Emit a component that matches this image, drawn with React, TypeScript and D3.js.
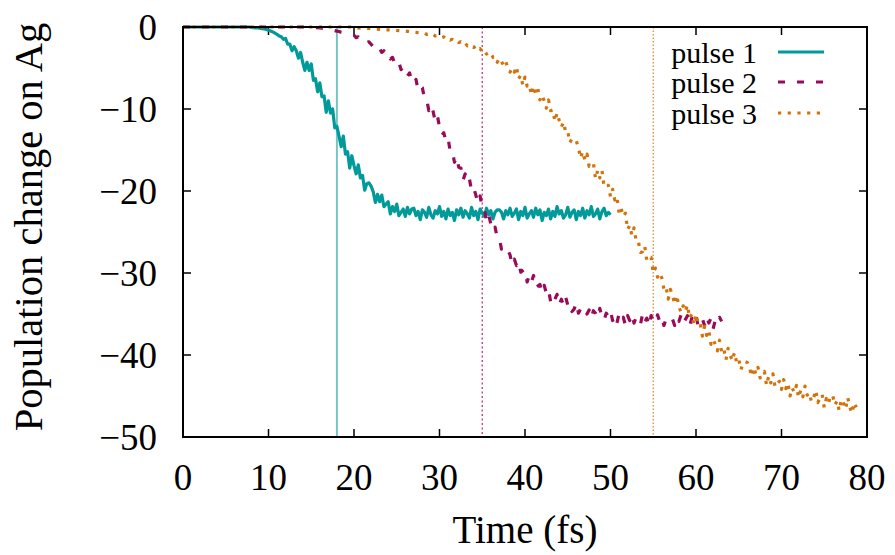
import React from "react";
import * as d3 from "d3";

const W = 895;
const H = 555;

const xTicks = [0, 10, 20, 30, 40, 50, 60, 70, 80];
const yTicks = [0, -10, -20, -30, -40, -50];
const xTickLabels = ["0", "10", "20", "30", "40", "50", "60", "70", "80"];
const yTickLabels = ["0", "\u221210", "\u221220", "\u221230", "\u221240", "\u221250"];

const seriesNames = ["pulse 1", "pulse 2", "pulse 3"];
const seriesColors = ["#009a9a", "#9b0a58", "#d4720a"];
const markerTimes = [18, 35, 55];

// time step of the sampled data (fs), all series start at t = 0
const dt = 0.25;

const pulse1 = [
  0, 0, 0, 0, 0, 0, 0, 0, 0, 0, 0, 0, 0, 0, 0, 0,
  0, 0, 0, 0, 0, 0, 0, 0, 0, 0, 0, 0, 0, 0, 0, 0,
  -0.05, -0.07, -0.1, -0.12,
  -0.15, -0.2, -0.25, -0.3,
  -0.4, -0.5, -0.6, -0.75,
  -0.9, -1.1, -1.2, -1.5,
  -1.4, -2.1, -2.1, -2.9,
  -2.4, -2.9, -3.8, -3.1,
  -4.3, -5.3, -4.3, -5.3,
  -4.5, -6.5, -6.3, -7.9,
  -6.8, -8.5, -8.4, -10.4,
  -9.0, -10.5, -10.0, -12.3,
  -12.1, -13.3, -14.6, -13.3,
  -15.5, -15.2, -17.2, -15.7,
  -16.9, -17.9, -16.8, -18.4,
  -18.1, -19.9, -19.1, -19.0,
  -19.4, -20.1, -21.4, -20.4,
  -21.3, -20.5, -21.9, -21.6,
  -21.3, -22.8, -21.9, -22.5,
  -21.6, -23.0, -22.6, -22.2,
  -23.1, -22.0, -22.8, -22.2,
  -22.1, -23.0, -22.5, -23.5, -22.3, -22.6, -23.2, -22.0, -22.9, -23.3,
  -22.4, -22.8, -21.9, -23.1, -22.5, -23.4, -22.2, -23.0, -22.6, -23.6,
  -22.3, -22.9, -22.1, -23.2, -22.4, -22.8, -23.3, -22.0, -23.0, -22.5,
  -23.5, -22.2, -22.7, -23.1, -22.1, -22.9, -22.4, -23.4, -22.6, -22.3,
  -22.3, -22.6, -23.4, -22.4, -22.9, -22.1, -23.1, -22.7, -22.2, -23.5,
  -22.5, -23.0, -22.0, -23.3, -22.8, -22.4, -23.2, -22.1, -22.9, -22.3,
  -23.6, -22.6, -23.0, -22.2, -23.4, -22.5, -23.1, -21.9, -22.8, -22.4,
  -23.3, -22.9, -22.0, -23.2, -22.6, -22.3, -23.5, -22.5, -23.0, -22.1,
  -23.3, -22.4, -22.9, -21.9, -23.1, -22.8, -22.2, -23.4, -22.5, -22.1,
  -23.0, -22.6, -22.9,
];

const pulse2 = [
  0, 0, 0, 0, 0, 0, 0, 0, 0, 0, 0, 0, 0, 0, 0, 0, 0, 0, 0, 0,
  0, 0, 0, 0, 0, 0, 0, 0, 0, 0, 0, 0, 0, 0, 0, 0, 0, 0, 0, 0,
  0, 0, 0, 0, 0, 0, 0, 0, 0, 0, 0, 0, 0, 0, 0, 0, 0, 0, 0, 0,
  -0.05, -0.06, -0.08, -0.09,
  -0.1, -0.15, -0.2, -0.25,
  -0.3, -0.35, -0.4, -0.45,
  -0.5, -0.55, -0.65, -0.7,
  -0.75, -0.85, -0.95, -1.0,
  -1.0, -1.3, -1.2, -1.5,
  -1.6, -1.5, -1.9, -1.8,
  -2.1, -2.4, -2.2, -2.7,
  -2.6, -3.1, -2.9, -3.5,
  -3.3, -3.9, -3.7, -4.4,
  -4.7, -4.3, -5.2, -4.9,
  -5.1, -6.0, -5.6, -6.7,
  -6.9, -6.4, -7.7, -7.2,
  -7.4, -8.8, -8.8, -10.2,
  -9.5, -10.3, -11.5, -10.8,
  -12.2, -13.2, -12.9, -13.9,
  -13.5, -15.2, -15.1, -16.5,
  -15.8, -17.1, -17.2, -18.7,
  -17.9, -18.9, -18.5, -20.0,
  -19.6, -20.5, -21.5, -20.6,
  -22.1, -22.1, -23.7, -22.9,
  -24.0, -24.9, -24.4, -25.7,
  -25.7, -27.1, -26.7, -26.8,
  -27.2, -27.8, -29.0, -28.3,
  -29.1, -28.6, -29.9, -29.7,
  -29.5, -31.1, -30.3, -31.1,
  -30.3, -31.8, -31.6, -31.4,
  -32.4, -31.5, -32.5, -32.0,
  -33.5, -32.7, -33.2, -32.6,
  -33.9, -33.2, -33.9, -32.9,
  -33.9, -33.6, -34.7, -34.4,
  -33.6, -34.9, -34.4, -34.2,
  -34.1, -35.0, -34.5, -35.5,
  -34.6, -34.9, -35.5, -34.3,
  -35.4, -35.8, -34.9, -35.3,
  -34.6, -35.8, -35.2, -36.1,
  -35.0, -35.8, -35.4, -36.4,
  -35.2, -35.8, -35.0, -36.1,
  -35.4, -35.8, -36.3, -35.0,
  -36.0, -35.5, -36.5, -35.2,
  -35.7, -36.1, -35.1, -35.9,
  -35.4, -36.4, -35.6, -35.3,
  -35.3, -35.6, -36.4, -35.4,
  -35.9, -35.1, -36.1, -35.7,
  -35.2, -36.5, -35.5, -36.0,
  -35.2, -36.5, -36.0, -35.6,
  -36.4, -35.3, -36.1, -35.5,
  -36.8, -35.8, -36.2, -35.4,
  -35.9,
];

const pulse3 = [
  0, 0, 0, 0, 0, 0, 0, 0, 0, 0, 0, 0, 0, 0, 0, 0, 0, 0, 0, 0,
  0, 0, 0, 0, 0, 0, 0, 0, 0, 0, 0, 0, 0, 0, 0, 0, 0, 0, 0, 0,
  0, 0, 0, 0, 0, 0, 0, 0, 0, 0, 0, 0, 0, 0, 0, 0, 0, 0, 0, 0,
  0, 0, 0, 0, 0, 0, 0, 0, 0, 0, 0, 0, 0, 0, 0, 0, 0, 0, 0, 0,
  -0.1, -0.1, -0.12, -0.13,
  -0.15, -0.15, -0.17, -0.18,
  -0.2, -0.22, -0.24, -0.26,
  -0.28, -0.3, -0.32, -0.34,
  -0.35, -0.37, -0.39, -0.41,
  -0.43, -0.45, -0.47, -0.49,
  -0.5, -0.53, -0.56, -0.6,
  -0.62, -0.65, -0.69, -0.72,
  -0.8, -0.75, -0.9, -0.85,
  -1.0, -0.9, -1.1, -1.05,
  -1.1, -1.3, -1.2, -1.45,
  -1.35, -1.6, -1.5, -1.75,
  -1.65, -1.9, -1.8, -2.1,
  -1.95, -2.3, -2.15, -2.45,
  -2.5, -2.35, -2.8, -2.65,
  -3.05, -2.85, -3.3, -3.1,
  -3.1, -3.7, -3.6, -4.3,
  -3.8, -4.2, -4.7, -4.2,
  -5.0, -5.5, -5.0, -5.5,
  -4.8, -6.3, -5.9, -7.1,
  -6.1, -7.2, -7.0, -8.3,
  -7.2, -8.1, -7.5, -8.9,
  -8.3, -9.0, -9.9, -8.9,
  -10.2, -10.1, -11.5, -10.5,
  -11.4, -12.2, -11.6, -12.8,
  -12.7, -14.1, -13.6, -13.7,
  -13.9, -14.7, -16.0, -15.2,
  -16.2, -15.5, -17.0, -16.9,
  -16.6, -18.5, -17.5, -18.4,
  -17.5, -19.5, -19.3, -19.3,
  -20.7, -19.8, -21.1, -20.7,
  -22.7, -22.1, -23.1, -22.7,
  -24.7, -24.2, -25.4, -24.5,
  -26.1, -26.1, -27.5, -27.4,
  -26.7, -28.5, -28.1, -28.1,
  -30.0, -29.4, -30.5, -30.0,
  -30.6, -32.0, -31.7, -33.2,
  -32.0, -32.7, -33.8, -32.7,
  -34.1, -34.8, -34.0, -34.7,
  -33.9, -35.5, -35.0, -36.3,
  -35.0, -36.3, -36.2, -37.7,
  -36.5, -37.6, -37.0, -38.7,
  -38.1, -38.7, -39.5, -38.2,
  -39.6, -39.2, -40.6, -39.2,
  -40.0, -40.7, -39.7, -40.9,
  -40.5, -41.8, -41.0, -40.8,
  -40.9, -41.5, -42.6, -41.5,
  -42.3, -41.5, -42.8, -42.5,
  -42.0, -43.7, -42.6, -43.4,
  -42.3, -43.9, -43.5, -43.2,
  -44.2, -43.0, -44.1, -43.4,
  -45.0, -44.0, -44.6, -43.7,
  -45.2, -44.3, -45.1, -43.8,
  -44.9, -44.6, -45.7, -45.3,
  -44.3, -45.8, -45.2, -44.8,
  -46.4, -45.3, -45.9, -44.9,
  -45.0, -46.1, -45.6, -46.8,
  -45.4, -45.9, -46.6, -45.2,
  -46.4, -47.1, -45.8, -46.4,
];

const seriesData = [pulse1, pulse2, pulse3];

const FONT = "'Liberation Serif', 'Times New Roman', Times, serif";

export default function App() {
  const left = 183, right = 867, top = 27, bottom = 437;
  const x = d3.scaleLinear().domain([0, 80]).range([left, right]);
  const y = d3.scaleLinear().domain([-50, 0]).range([bottom, top]);

  const line = d3
    .line<number>()
    .x((_, i) => x(i * dt))
    .y((v) => y(v));

  const styles = [
    { width: 3.2, dash: undefined as string | undefined },
    { width: 3.2, dash: "7 12" },
    { width: 3.2, dash: "3.2 6.5" },
  ];
  const legendWidths = [3, 3, 3];
  const markerStyles = [
    { color: "#74c6c6", width: 2, dash: undefined as string | undefined },
    { color: "#c2337f", width: 1.3, dash: "2 2.5" },
    { color: "#d98a3a", width: 1.3, dash: "1.5 2" },
  ];

  const tickLen = 8;
  const legendRowY = [52, 82, 113];

  return (
    <svg
      width={W}
      height={H}
      style={{ position: "absolute", left: 0, top: 0, background: "#fff" }}
      fontFamily={FONT}
    >
      <rect x={0} y={0} width={W} height={H} fill="#fff" />
      {markerTimes.map((t, i) => (
        <line
          key={"m" + i}
          x1={x(t)}
          x2={x(t)}
          y1={top}
          y2={bottom}
          stroke={markerStyles[i].color}
          strokeWidth={markerStyles[i].width}
          strokeDasharray={markerStyles[i].dash}
        />
      ))}
      {xTicks.map((t, i) => (
        <g key={"xt" + i}>
          <line x1={x(t)} x2={x(t)} y1={bottom} y2={bottom - tickLen} stroke="#000" strokeWidth={1.5} />
          <line x1={x(t)} x2={x(t)} y1={top} y2={top + tickLen} stroke="#000" strokeWidth={1.5} />
          <text x={x(t)} y={490} fontSize={37} textAnchor="middle" fill="#000">
            {xTickLabels[i]}
          </text>
        </g>
      ))}
      {yTicks.map((t, i) => (
        <g key={"yt" + i}>
          <line x1={left} x2={left + tickLen} y1={y(t)} y2={y(t)} stroke="#000" strokeWidth={1.5} />
          <line x1={right} x2={right - tickLen} y1={y(t)} y2={y(t)} stroke="#000" strokeWidth={1.5} />
          <text x={157} y={y(t) + 13} fontSize={37} textAnchor="end" fill="#000">
            {yTickLabels[i]}
          </text>
        </g>
      ))}
      {seriesData.map((d, i) => (
        <path
          key={"s" + i}
          d={line(d) || ""}
          fill="none"
          stroke={seriesColors[i]}
          strokeWidth={styles[i].width}
          strokeDasharray={styles[i].dash}
          strokeLinejoin="round"
        />
      ))}
      <rect
        x={left}
        y={top}
        width={right - left}
        height={bottom - top}
        fill="none"
        stroke="#000"
        strokeWidth={2}
      />
      {seriesNames.map((name, i) => (
        <g key={"lg" + i}>
          <text x={757} y={legendRowY[i] + 11} fontSize={30} textAnchor="end" fill="#000">
            {name}
          </text>
          <line
            x1={778}
            x2={824}
            y1={legendRowY[i]}
            y2={legendRowY[i]}
            stroke={seriesColors[i]}
            strokeWidth={legendWidths[i]}
            strokeDasharray={styles[i].dash}
          />
        </g>
      ))}
      <text x={525} y={543} fontSize={39} textAnchor="middle" fill="#000">
        Time (fs)
      </text>
      <text
        transform={`translate(42, 227) rotate(-90)`}
        fontSize={40.5}
        textAnchor="middle"
        fill="#000"
      >
        Population change on Ag
      </text>
    </svg>
  );
}
